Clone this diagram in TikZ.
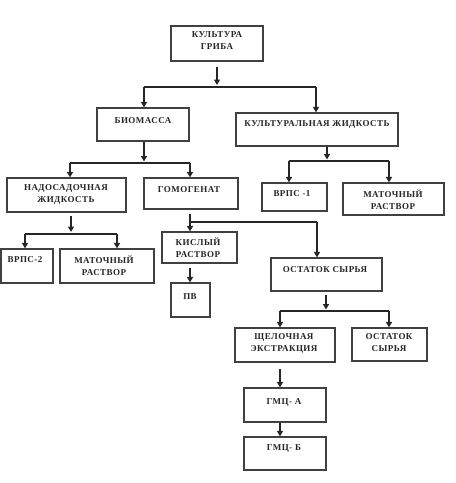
\documentclass[tikz,border=0pt]{standalone}
\usepackage{fontspec}
\setmainfont[LetterSpace=5]{Liberation Serif}
\usetikzlibrary{arrows.meta,fit}
\begin{document}
\begin{tikzpicture}[x=1pt,y=-1pt,
  box/.style={draw=black!75, line width=1.2pt, inner sep=0pt},
  lbl/.style={font=\bfseries\fontsize{9}{12}\selectfont, text=black!85, align=center, inner sep=0pt, anchor=north},
  arr/.style={draw=black!85, line width=1.6pt, -{Triangle[width=6pt,length=5.5pt]}},
  ln/.style={draw=black!85, line width=1.4pt}]
\useasboundingbox[fill=white] (0,0) rectangle (456,483);
% boxes
\node[box, fit={(171,26) (263,61)}] (kg) {};
\node[box, fit={(97,108) (189,141)}] (bio) {};
\node[box, fit={(236,113) (398,146)}] (kzh) {};
\node[box, fit={(7,178) (126,212)}] (nzh) {};
\node[box, fit={(144,178) (238,209)}] (gom) {};
\node[box, fit={(1,249) (53,283)}] (vrps2) {};
\node[box, fit={(60,249) (154,283)}] (mr1) {};
\node[box, fit={(262,183) (327,211)}] (vrps1) {};
\node[box, fit={(343,183) (444,215)}] (mr2) {};
\node[box, fit={(162,232) (237,263)}] (kr) {};
\node[box, fit={(171,283) (210,317)}] (pv) {};
\node[box, fit={(271,258) (382,291)}] (os1) {};
\node[box, fit={(235,328) (335,362)}] (shch) {};
\node[box, fit={(352,328) (427,361)}] (os2) {};
\node[box, fit={(244,388) (326,422)}] (gmca) {};
\node[box, fit={(244,437) (326,470)}] (gmcb) {};
% labels
\node[lbl] (kg-t) at (217,31) {КУЛЬТУРА\\ГРИБА};
\node[lbl] (bio-t) at (143,117) {БИОМАССА};
\node[lbl] (kzh-t) at (317,120) {КУЛЬТУРАЛЬНАЯ ЖИДКОСТЬ};
\node[lbl] (nzh-t) at (66,184) {НАДОСАДОЧНАЯ\\ЖИДКОСТЬ};
\node[lbl] (gom-t) at (189,186) {ГОМОГЕНАТ};
\node[lbl] (vrps2-t) at (25,256) {ВРПС-2};
\node[lbl] (mr1-t) at (104,256) {МАТОЧНЫЙ\\РАСТВОР};
\node[lbl] (vrps1-t) at (292,190) {ВРПС -1};
\node[lbl] (mr2-t) at (393,190) {МАТОЧНЫЙ\\РАСТВОР};
\node[lbl] (kr-t) at (198,238) {КИСЛЫЙ\\РАСТВОР};
\node[lbl] (pv-t) at (190,293) {ПВ};
\node[lbl] (os1-t) at (325,266) {ОСТАТОК СЫРЬЯ};
\node[lbl] (shch-t) at (284,333) {ЩЕЛОЧНАЯ\\ЭКСТРАКЦИЯ};
\node[lbl] (os2-t) at (389,333) {ОСТАТОК\\СЫРЬЯ};
\node[lbl] (gmca-t) at (284,398) {ГМЦ- А};
\node[lbl] (gmcb-t) at (284,444) {ГМЦ- Б};
% junctions
\coordinate (j1) at (217,87); \coordinate (j1l) at (144,87); \coordinate (j1r) at (316,87);
\coordinate (j2) at (144,163); \coordinate (j2l) at (70,163); \coordinate (j2r) at (190,163);
\coordinate (j3) at (327,161); \coordinate (j3l) at (289,161); \coordinate (j3r) at (389,161);
\coordinate (j4) at (71,234); \coordinate (j4l) at (25,234); \coordinate (j4r) at (117,234);
\coordinate (j5) at (190,222); \coordinate (j5r) at (317,222);
\coordinate (j6) at (326,311); \coordinate (j6l) at (280,311); \coordinate (j6r) at (389,311);
% connectors
\draw[arr] ([yshift=-5pt]kg.south -| j1) -- ([yshift=2pt]j1);
\draw[ln] (j1l) -- (j1r);
\draw[arr] (j1l) -- (j1l |- bio.north);
\draw[arr] (j1r) -- (j1r |- kzh.north);

\draw[arr] (bio.south -| j2) -- ([yshift=1.5pt]j2);
\draw[ln] (j2l) -- (j2r);
\draw[arr] (j2l) -- (j2l |- nzh.north);
\draw[arr] (j2r) -- (j2r |- gom.north);

\draw[arr] (kzh.south -| j3) -- ([yshift=1.5pt]j3);
\draw[ln] (j3l) -- (j3r);
\draw[arr] (j3l) -- (j3l |- vrps1.north);
\draw[arr] (j3r) -- (j3r |- mr2.north);

\draw[arr] ([yshift=-3pt]nzh.south -| j4) -- ([yshift=2pt]j4);
\draw[ln] (j4l) -- (j4r);
\draw[arr] (j4l) -- (j4l |- vrps2.north);
\draw[arr] (j4r) -- (j4r |- mr1.north);

\draw[arr] ([yshift=-4pt]gom.south -| j5) -- (j5 |- kr.north);
\draw[ln] (j5) -- (j5r);
\draw[arr] (j5r) -- (j5r |- os1.north);

\draw[arr] ([yshift=-4pt]kr.south -| j5) -- (j5 |- pv.north);

\draw[arr] ([yshift=-3pt]os1.south -| j6) -- ([yshift=1.5pt]j6);
\draw[ln] (j6l) -- (j6r);
\draw[arr] (j6l) -- (j6l |- shch.north);
\draw[arr] (j6r) -- (j6r |- os2.north);

\draw[arr] ([yshift=-6pt]shch.south -| j6l) -- (j6l |- gmca.north);
\draw[arr] (gmca.south -| j6l) -- (j6l |- gmcb.north);
\end{tikzpicture}
\end{document}
